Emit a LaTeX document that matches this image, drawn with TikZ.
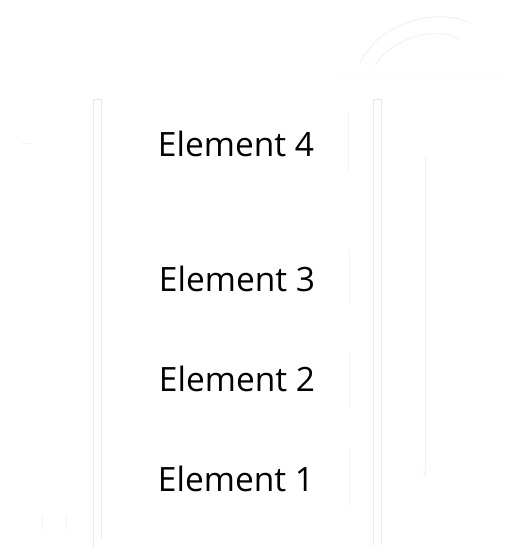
\documentclass[tikz,border=0pt]{standalone}
\usepackage{fontspec}
\setmainfont{Open Sans}
\usetikzlibrary{positioning,arrows.meta,calc}
\definecolor{faint}{HTML}{E6E6E6}
\definecolor{fainter}{HTML}{F2F2F2}

\begin{document}
\begin{tikzpicture}[x=1pt,y=-1pt,
    elem/.style={font=\fontsize{33.5}{40}\selectfont, anchor=base, text=black},
    rail/.style={draw=faint, line width=1pt},
    ghost/.style={draw=fainter, line width=1pt}]
    \useasboundingbox[fill=white] (0,0) rectangle (515,559);
    \def\midx{236}

    % Stack elements
    \node[elem] (e4) at (\midx,156) {Element 4};
    \node[elem] (e3) at (\midx+1,291) {Element 3};
    \node[elem] (e2) at (\midx+1,391) {Element 2};
    \node[elem] (e1) at (\midx,491) {Element 1};

    % Left and right rails of the stack
    \draw[rail] (93,547) -- (93,100) -- (101,100) -- (101,538);
    \draw[rail] (373,545) -- (373,100) -- (381,100) -- (381,545);

    % Right edges of the element boxes
    \draw[ghost] (348,113) -- (348,172);
    \draw[ghost] (349,250) -- (349,303);
    \draw[ghost] (349,352) -- (349,407);
    \draw[ghost] (349,448) -- (349,505);

    % Pop direction
    \coordinate (top) at (425,157);
    \coordinate (bottom) at (425,477);
    \draw[ghost, -{Stealth[length=6pt]}] (top) -- (bottom);

    % Curved arrows above the stack
    \draw[ghost] (360,63) .. controls (380,20) and (440,8) .. (470,23);
    \draw[ghost] (375,65) .. controls (395,35) and (440,26) .. (460,40);
    \draw[ghost, dotted, line width=0.5pt] (340,77) -- (497,77);

    % Small marks on the left
    \draw[ghost] (22,143) -- (30,143);
    \draw[ghost] (42,515) -- (42,530);
    \draw[ghost] (66,515) -- (66,530);
\end{tikzpicture}
\end{document}
